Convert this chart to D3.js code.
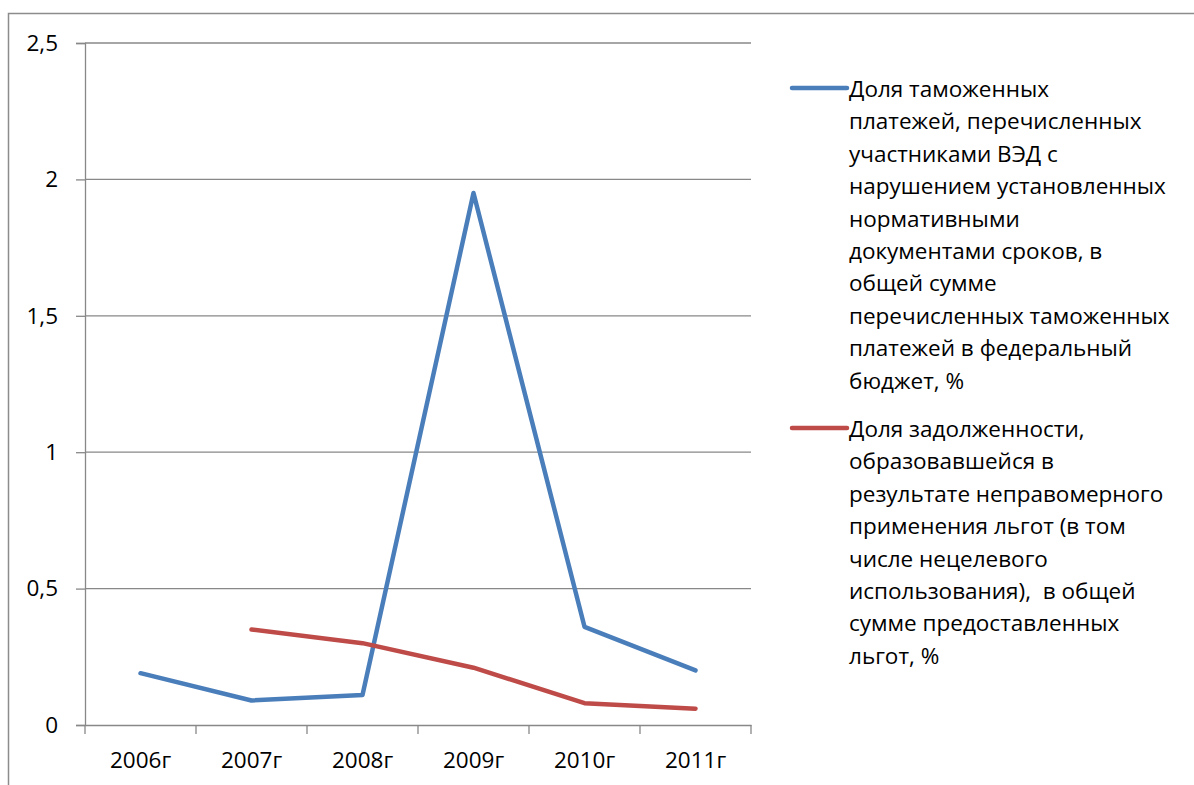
<!DOCTYPE html>
<html>
<head>
<meta charset="utf-8">
<script src="https://cdn.jsdelivr.net/npm/d3@7"></script>
<style>
  body { margin: 0; background: #fff; }
  text { font-family: "Open Sans", "Liberation Sans", sans-serif; fill: #000; }
</style>
</head>
<body>
<div id="chart"></div>
<script>
// data
var years = ["2006г", "2007г", "2008г", "2009г", "2010г", "2011г"];
var customsLate = [0.19, 0.09, 0.11, 1.95, 0.36, 0.20];
var privilegeDebt = [null, 0.35, 0.30, 0.21, 0.08, 0.06];
var yTicks = [0, 0.5, 1, 1.5, 2, 2.5];

var legendBlue = ["Доля таможенных", "платежей, перечисленных", "участниками ВЭД с",
  "нарушением установленных", "нормативными", "документами сроков, в", "общей сумме",
  "перечисленных таможенных", "платежей в федеральный", "бюджет, %"];
var legendRed = ["Доля задолженности,", "образовавшейся в", "результате неправомерного",
  "применения льгот (в том", "числе нецелевого", "использования),  в общей",
  "сумме предоставленных", "льгот, %"];

var W = 1194, H = 785;
var margin = {top: 43, left: 85, right: 443, bottom: 60};
var width = W - margin.left - margin.right,
    height = 725 - margin.top;

var svg = d3.select("#chart").append("svg")
    .attr("width", W)
    .attr("height", H);

// outer chart border
svg.append("rect")
    .attr("x", 8.5).attr("y", 13.5)
    .attr("width", W).attr("height", H)
    .attr("fill", "none")
    .attr("stroke", "#8c8c8c")
    .attr("stroke-width", 1.5);

var g = svg.append("g")
    .attr("transform", "translate(" + margin.left + "," + margin.top + ")");

var x = d3.scaleBand().domain(years).range([0, width]);
var y = d3.scaleLinear().domain([0, 2.5]).range([height, 0]);

// gridlines
g.selectAll(".grid")
    .data(yTicks.filter(function(d) { return d > 0; }))
    .enter().append("line")
    .attr("x1", 0).attr("x2", width)
    .attr("y1", function(d) { return y(d); })
    .attr("y2", function(d) { return y(d); })
    .attr("stroke", "#888")
    .attr("stroke-width", 1.3);

// y axis
var yAxis = g.append("g")
    .call(d3.axisLeft(y).tickValues(yTicks).tickSize(9).tickPadding(18)
      .tickFormat(function(d) { return String(d).replace(".", ","); }));
yAxis.selectAll("text").style("font-size", "22.5px");

// x axis with ticks between categories
var xAxis = g.append("g")
    .attr("transform", "translate(0," + height + ")")
    .call(d3.axisBottom(x).tickSize(0).tickPadding(27));
xAxis.selectAll("text").style("font-size", "22.5px");
xAxis.selectAll(".sep")
    .data(d3.range(years.length + 1))
    .enter().append("line")
    .attr("x1", function(i) { return i * x.bandwidth(); })
    .attr("x2", function(i) { return i * x.bandwidth(); })
    .attr("y1", 0).attr("y2", 9)
    .attr("stroke", "#888").attr("stroke-width", 1.3);

[yAxis, xAxis].forEach(function(a) {
  a.select(".domain").attr("stroke", "#888").attr("stroke-width", 1.3);
  a.selectAll(".tick line").attr("stroke", "#888").attr("stroke-width", 1.3);
});

var line = d3.line()
    .defined(function(d) { return d != null; })
    .x(function(d, i) { return x(years[i]) + x.bandwidth() / 2; })
    .y(function(d) { return y(d); });

g.append("path").datum(customsLate)
    .attr("d", line)
    .attr("fill", "none")
    .attr("stroke", "#4a7ebb")
    .attr("stroke-width", 4.5)
    .attr("stroke-linecap", "round")
    .attr("stroke-linejoin", "round");

g.append("path").datum(privilegeDebt)
    .attr("d", line)
    .attr("fill", "none")
    .attr("stroke", "#be4b48")
    .attr("stroke-width", 4.5)
    .attr("stroke-linecap", "round")
    .attr("stroke-linejoin", "round");

// legend
var legend = [
  {lines: legendBlue, color: "#4a7ebb", y: 88},
  {lines: legendRed, color: "#be4b48", y: 428}
];
legend.forEach(function(item) {
  svg.append("line")
      .attr("x1", 792).attr("x2", 847)
      .attr("y1", item.y).attr("y2", item.y)
      .attr("stroke", item.color)
      .attr("stroke-width", 4.5)
      .attr("stroke-linecap", "round");
  svg.append("text")
      .attr("x", 849).attr("y", item.y + 9)
      .style("font-size", "22.5px")
      .style("white-space", "pre")
      .selectAll("tspan")
      .data(item.lines)
      .enter().append("tspan")
      .attr("x", 849)
      .attr("dy", function(d, i) { return i === 0 ? 0 : 32.4; })
      .text(function(d) { return d; });
});
</script>
</body>
</html>
